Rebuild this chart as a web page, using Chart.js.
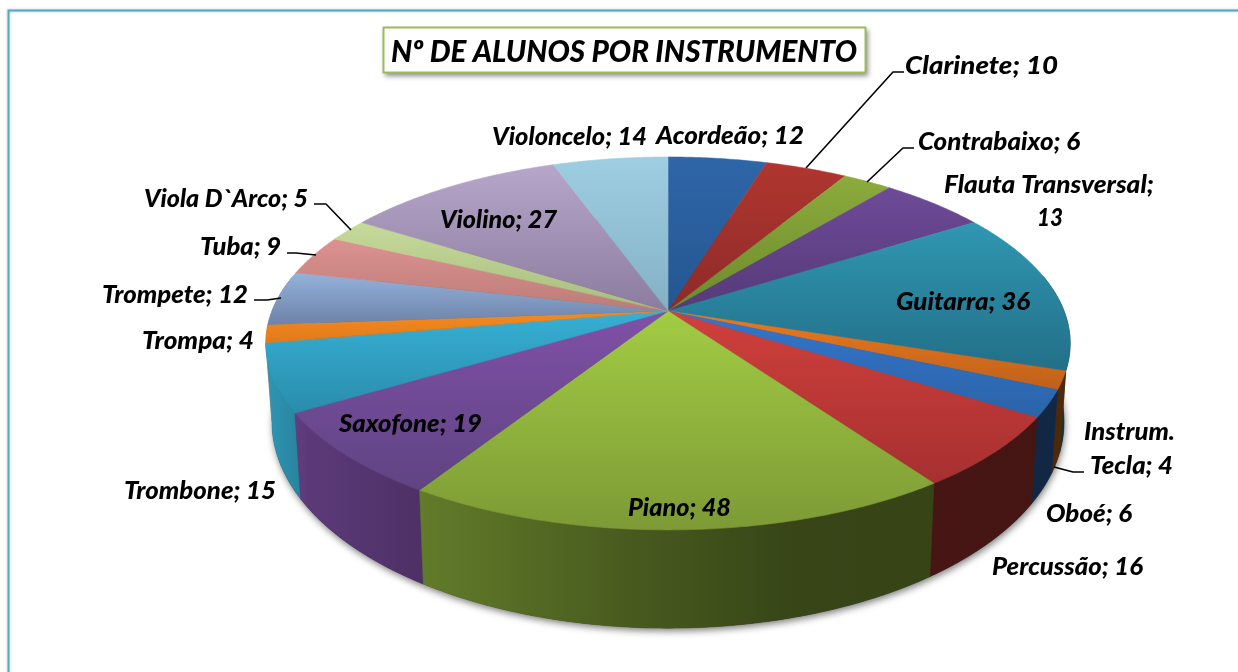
<!DOCTYPE html>
<html lang="pt">
<head>
<meta charset="utf-8">
<title>Nº de alunos por instrumento</title>
<script src="https://cdn.jsdelivr.net/npm/chart.js@4"></script>
<style>
html,body{margin:0;padding:0;background:#fff;overflow:hidden}
canvas{display:block}
</style>
</head>
<body>
<canvas id="c" width="1238" height="672"></canvas>
<script>
const chartTitle = "Nº DE ALUNOS POR INSTRUMENTO";
const categories = ["Acordeão","Clarinete","Contrabaixo","Flauta Transversal","Guitarra","Instrum. Tecla","Oboé","Percussão","Piano","Saxofone","Trombone","Trompa","Trompete","Tuba","Viola D`Arco","Violino","Violoncelo"];
const alunos = [12,10,6,13,36,4,6,16,48,19,15,4,12,9,5,27,14];

const topColors = ["#2f66a8","#b0362f","#8cab3c","#6e4a98","#3097b2","#e87c20","#3575cc","#d0403c","#a2cc44","#8050a8","#36b0d4","#f58a20","#94b2dc","#dc9290","#c6da9a","#b6a6ca","#9ecee2"];
const bottomColors = ["#245690","#8e2a28","#6d8a2c","#553a78","#226f88","#c0601a","#2a64a8","#a63030","#7d9a35","#5f4482","#2a8cac","#e07a1a","#6e83a8","#bc7c78","#a8bc80","#8c7ca0","#84b0c4"];

// projective view of the pie disc
const view = {cx:668, k:0.174, top:{y0:311,a:396,b:180.8}, bottom:{y0:386,a:390,b:200}};
const sideShade = [[0,.85],[.05,.72],[.2,.6],[.44,.45],[.66,.34],[1,.33]];

// label placement: [left x, right x, centre y] per text line
const labelPlaces = [
 [[656,804,136]],[[905,1058,66]],[[918,1080,142]],[[944,1154,185],[1037,1063,218]],[[896,1030,302]],
 [[1084,1175,432],[1090,1173,466]],[[1046,1132,514]],[[992,1143,567]],[[628,731,508]],[[339,482,424]],
 [[124,276,491]],[[142,254,341]],[[102,248,295]],[[200,281,247]],[[144,308,199]],[[440,557,220]],[[492,647,137]]
];
const titlePlace = [391,857,52];
const labelLines = {
 "Flauta Transversal":["Flauta Transversal;","13"],
 "Instrum. Tecla":["Instrum.","Tecla; 4"]
};
const leaders = [
 [[806,168],[893,72],[904,72]],
 [[867,182],[903,148],[914,148]],
 [[351,230],[326,204],[314,204]],
 [[316,255],[296,253],[287,253]],
 [[281,298],[267,300],[254,300]],
 [[1054,467],[1073,472],[1084,472]]
];

function project(face,a){
  const u=Math.cos(a), v=Math.sin(a), w=1/(1-view.k*v);
  return [view.cx+face.a*u*w, face.y0+face.b*v*w];
}
function hexRgb(h){return [1,3,5].map(i=>parseInt(h.substr(i,2),16));}
function shade(h,f){return "rgb("+hexRgb(h).map(c=>Math.round(c*f)).join(",")+")";}
function fitText(ctx,t,place){
  const w=ctx.measureText(t).width;
  ctx.save();
  ctx.translate(place[0],place[2]);
  ctx.scale((place[1]-place[0])/w,1);
  ctx.fillText(t,0,0);
  ctx.restore();
}

const pie3d = {
  id:"pie3d",
  beforeDraw(chart){
    const ctx=chart.ctx;
    ctx.save();
    ctx.fillStyle="#fff";ctx.fillRect(0,0,1238,672);
    ctx.shadowColor="rgba(0,0,0,.25)";ctx.shadowBlur=3;
    ctx.strokeStyle="#4bacc6";ctx.lineWidth=2;
    ctx.strokeRect(8.5,10.5,1240,680);
    ctx.restore();
  },
  beforeDatasetDraw(chart,args){
    const ctx=chart.ctx, arcs=chart.getDatasetMeta(args.index).data;
    const step=Math.PI/180;
    ctx.save();
    // soft shadow under the disc
    ctx.save();
    ctx.shadowColor="rgba(0,0,0,.5)";ctx.shadowBlur=7;ctx.shadowOffsetY=3;ctx.shadowOffsetX=1;
    ctx.fillStyle="#333";ctx.beginPath();
    for(let a=0;a<Math.PI*2;a+=step){const p=project(view.bottom,a);ctx.lineTo(p[0],p[1]);}
    ctx.closePath();ctx.fill();
    ctx.restore();
    // side wall, back to front
    const order=arcs.map((el,i)=>i).sort((p,q)=>
      Math.sin((arcs[p].startAngle+arcs[p].endAngle)/2)-Math.sin((arcs[q].startAngle+arcs[q].endAngle)/2));
    order.forEach(i=>{
      const el=arcs[i], pts=[];
      for(let a=el.startAngle;;a+=step/2){
        const t=Math.min(a,el.endAngle);
        if(Math.sin(t)>-0.2) pts.push(t);
        if(a>=el.endAngle) break;
      }
      if(pts.length<2) return;
      const g=ctx.createLinearGradient(267,0,1070,0);
      sideShade.forEach(s=>g.addColorStop(s[0],shade(topColors[i],s[1])));
      ctx.fillStyle=g;ctx.strokeStyle=g;ctx.lineWidth=.6;
      ctx.beginPath();
      pts.forEach(t=>{const p=project(view.top,t);ctx.lineTo(p[0],p[1]);});
      pts.slice().reverse().forEach(t=>{const p=project(view.bottom,t);ctx.lineTo(p[0],p[1]);});
      ctx.closePath();ctx.fill();ctx.stroke();
    });
    // top face
    arcs.forEach((el,i)=>{
      const pts=[[view.cx,view.top.y0]];
      for(let a=el.startAngle;;a+=step/2){
        const t=Math.min(a,el.endAngle);
        pts.push(project(view.top,t));
        if(a>=el.endAngle) break;
      }
      const ys=pts.map(p=>p[1]);
      const g=ctx.createLinearGradient(0,Math.min(...ys),0,Math.max(...ys));
      g.addColorStop(0,topColors[i]);g.addColorStop(1,bottomColors[i]);
      ctx.fillStyle=g;ctx.strokeStyle=g;ctx.lineWidth=.6;
      ctx.beginPath();
      pts.forEach(p=>ctx.lineTo(p[0],p[1]));
      ctx.closePath();ctx.fill();ctx.stroke();
    });
    ctx.restore();
    return false;
  },
  afterDraw(chart){
    const ctx=chart.ctx;
    ctx.save();
    // leader lines
    ctx.strokeStyle="#000";ctx.lineWidth=1.6;ctx.lineJoin="round";
    leaders.forEach(l=>{
      ctx.beginPath();l.forEach(p=>ctx.lineTo(p[0],p[1]));ctx.stroke();
    });
    // title box
    ctx.save();
    ctx.shadowColor="rgba(0,0,0,.45)";ctx.shadowBlur=5;ctx.shadowOffsetX=2;ctx.shadowOffsetY=3;
    ctx.fillStyle="#fff";ctx.fillRect(383,27,483,46);
    ctx.restore();
    ctx.strokeStyle="#9bbb59";ctx.lineWidth=2;ctx.strokeRect(383.5,27.5,482,45);
    ctx.fillStyle="#000";ctx.textBaseline="middle";ctx.textAlign="left";
    ctx.font="italic 900 30px Lato";
    fitText(ctx,chartTitle,titlePlace);
    // data labels
    ctx.font="italic 900 24px Lato";
    categories.forEach((c,i)=>{
      const lines=labelLines[c]||[c+"; "+alunos[i]];
      lines.forEach((t,j)=>fitText(ctx,t,labelPlaces[i][j]));
    });
    ctx.restore();
  }
};

new Chart(document.getElementById("c"),{
  type:"pie",
  data:{labels:categories,datasets:[{data:alunos,backgroundColor:topColors,borderWidth:0}]},
  options:{
    responsive:false,animation:false,
    plugins:{legend:{display:false},tooltip:{enabled:false},title:{display:false}}
  },
  plugins:[pie3d]
});
</script>
</body>
</html>
